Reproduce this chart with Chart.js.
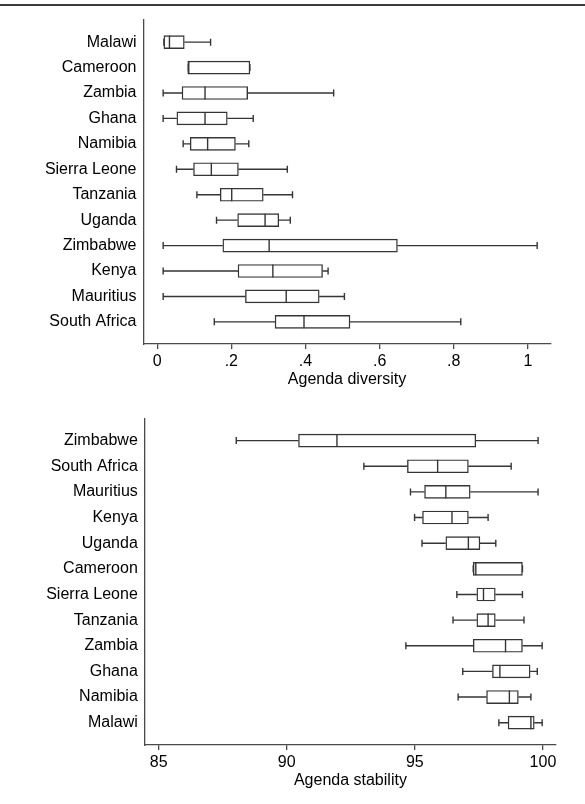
<!DOCTYPE html>
<html>
<head>
<meta charset="utf-8">
<script src="https://cdn.jsdelivr.net/npm/chart.js@4.4.0/dist/chart.umd.min.js"></script>
<style>
  html, body { margin: 0; padding: 0; background: #fff; }
  body { width: 585px; height: 804px; position: relative; overflow: hidden; }
  .rule { position: absolute; left: 0; top: 3.5px; width: 585px; height: 2px; background: #3c3c3c; }
  .panel { position: absolute; left: 0; width: 585px; }
  #top { top: 0; height: 400px; }
  #bottom { top: 400px; height: 404px; }
</style>
</head>
<body>
<div class="rule"></div>
<div class="panel" id="top"><canvas id="diversityChart"></canvas></div>
<div class="panel" id="bottom"><canvas id="stabilityChart"></canvas></div>
<script>
// Agenda diversity (top panel), rows top to bottom
const divCountries = ['Malawi', 'Cameroon', 'Zambia', 'Ghana', 'Namibia', 'Sierra Leone',
  'Tanzania', 'Uganda', 'Zimbabwe', 'Kenya', 'Mauritius', 'South Africa'];
const divMin = [0.018, 0.084, 0.016, 0.016, 0.070, 0.052, 0.107, 0.160, 0.016, 0.016, 0.016, 0.154];
const divQ1  = [0.018, 0.084, 0.067, 0.053, 0.089, 0.098, 0.170, 0.217, 0.177, 0.218, 0.238, 0.318];
const divMed = [0.033, 0.084, 0.129, 0.129, 0.136, 0.146, 0.201, 0.291, 0.302, 0.312, 0.348, 0.396];
const divQ3  = [0.073, 0.250, 0.244, 0.189, 0.211, 0.219, 0.286, 0.328, 0.648, 0.446, 0.437, 0.520];
const divMax = [0.144, 0.250, 0.476, 0.259, 0.247, 0.351, 0.365, 0.359, 1.025, 0.461, 0.505, 0.819];
const divTicks = [0, 0.2, 0.4, 0.6, 0.8, 1];
const divTickLabels = ['0', '.2', '.4', '.6', '.8', '1'];

// Agenda stability (bottom panel), rows top to bottom
const stabCountries = ['Zimbabwe', 'South Africa', 'Mauritius', 'Kenya', 'Uganda', 'Cameroon',
  'Sierra Leone', 'Tanzania', 'Zambia', 'Ghana', 'Namibia', 'Malawi'];
const stabMin = [88.03, 93.01, 94.83, 94.99, 95.28, 97.28, 96.64, 96.49, 94.65, 96.87, 96.69, 98.28];
const stabQ1  = [90.46, 94.71, 95.38, 95.30, 96.21, 97.28, 97.42, 97.42, 97.28, 98.03, 97.80, 98.64];
const stabMed = [91.96, 95.89, 96.21, 96.45, 97.09, 97.38, 97.68, 97.86, 98.54, 98.32, 98.69, 99.53];
const stabQ3  = [97.38, 97.09, 97.16, 97.09, 97.54, 99.20, 98.14, 98.14, 99.20, 99.50, 99.04, 99.66];
const stabMax = [99.81, 98.76, 99.81, 97.86, 98.16, 99.20, 99.20, 99.26, 99.97, 99.78, 99.53, 99.97];
const stabTicks = [85, 90, 95, 100];
const stabTickLabels = ['85', '90', '95', '100'];

const LINE = '#353535';
const AXIS = '#4a4a4a';
const FONT = { family: "'Liberation Sans', Arial, sans-serif", size: 16 };

// whiskers + caps drawn under the boxes, medians on top
function boxExtras(mins, meds, maxs, q1s, q3s) {
  return {
    id: 'boxExtras',
    beforeDatasetsDraw(chart) {
      const { ctx, scales: { x, y } } = chart;
      ctx.save();
      ctx.strokeStyle = LINE;
      ctx.lineWidth = 1.4;
      mins.forEach((lo, i) => {
        const yc = y.getPixelForValue(i);
        const xl = x.getPixelForValue(lo), xq1 = x.getPixelForValue(q1s[i]);
        const xq3 = x.getPixelForValue(q3s[i]), xh = x.getPixelForValue(maxs[i]);
        ctx.beginPath();
        ctx.moveTo(xl, yc); ctx.lineTo(xq1, yc);
        ctx.moveTo(xq3, yc); ctx.lineTo(xh, yc);
        ctx.moveTo(xl, yc - 3.5); ctx.lineTo(xl, yc + 3.5);
        ctx.moveTo(xh, yc - 3.5); ctx.lineTo(xh, yc + 3.5);
        ctx.stroke();
      });
      ctx.restore();
    },
    afterDatasetsDraw(chart) {
      const { ctx, scales: { x, y } } = chart;
      ctx.save();
      ctx.strokeStyle = LINE;
      ctx.lineWidth = 1.4;
      meds.forEach((m, i) => {
        const yc = y.getPixelForValue(i);
        const xm = x.getPixelForValue(m);
        ctx.beginPath();
        ctx.moveTo(xm, yc - 6.5); ctx.lineTo(xm, yc + 6.5);
        ctx.stroke();
      });
      ctx.restore();
    }
  };
}

function makeBoxChart(id, cats, mins, q1s, meds, q3s, maxs, xMin, xMax, ticks, tickLabels, title, yWidth, padding) {
  const ctx = document.getElementById(id).getContext('2d');
  return new Chart(ctx, {
    type: 'bar',
    data: {
      datasets: [{
        data: cats.map((c, i) => ({ y: i, x: [q1s[i], q3s[i]] })),
        backgroundColor: '#ffffff',
        borderColor: LINE,
        borderWidth: 1.4,
        borderSkipped: false,
        barThickness: 13,
      }],
    },
    options: {
      indexAxis: 'y',
      responsive: true,
      maintainAspectRatio: false,
      animation: false,
      layout: { padding },
      plugins: { legend: { display: false }, tooltip: { enabled: false } },
      scales: {
        y: {
          type: 'linear',
          reverse: true,
          offset: false,
          min: -0.87,
          max: 11.87,
          afterBuildTicks: (axis) => { axis.ticks = cats.map((c, i) => ({ value: i })); },
          afterFit: (axis) => { axis.width = yWidth; },
          ticks: { callback: (v) => cats[v], autoSkip: false, padding: 7, color: '#000', font: FONT },
          grid: { display: false, drawTicks: false },
          border: { display: true, color: AXIS, width: 1.3 },
        },
        x: {
          type: 'linear',
          min: xMin,
          max: xMax,
          afterBuildTicks: (axis) => { axis.ticks = ticks.map((v) => ({ value: v })); },
          afterFit: (axis) => { axis.height = 45; },
          ticks: { callback: (v, i) => tickLabels[i], autoSkip: false, maxRotation: 0, padding: 3, color: '#000', font: FONT },
          grid: { drawOnChartArea: false, drawTicks: true, tickLength: 5, color: AXIS, lineWidth: 1.3 },
          border: { display: true, color: AXIS, width: 1.3 },
          title: { display: true, text: title, color: '#000', font: FONT, padding: { top: 0, bottom: 0 } },
        },
      },
    },
    plugins: [boxExtras(mins, meds, maxs, q1s, q3s)],
  });
}

makeBoxChart('diversityChart', divCountries, divMin, divQ1, divMed, divQ3, divMax,
  -0.037, 1.061, divTicks, divTickLabels, 'Agenda diversity', 143.5,
  { top: 20, right: 34.5, bottom: 11, left: 0 });

makeBoxChart('stabilityChart', stabCountries, stabMin, stabQ1, stabMed, stabQ3, stabMax,
  84.46, 100.51, stabTicks, stabTickLabels, 'Agenda stability', 144.8,
  { top: 18.3, right: 29, bottom: 14, left: 0 });
</script>
</body>
</html>
